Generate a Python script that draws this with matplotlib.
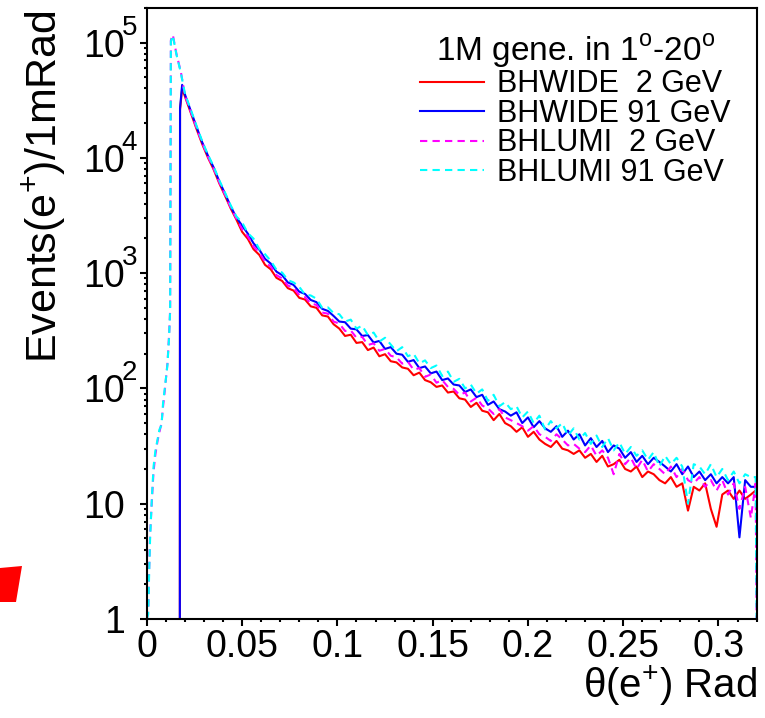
import numpy as np
import matplotlib
matplotlib.use('Agg')
import matplotlib.pyplot as plt
import matplotlib.ticker as ticker
from matplotlib.patches import Polygon
from matplotlib.transforms import blended_transform_factory, offset_copy

plt.rcParams['font.family'] = ['Liberation Sans', 'DejaVu Sans']
plt.rcParams['mathtext.fontset'] = 'custom'
plt.rcParams['mathtext.rm'] = 'Liberation Sans'

# theta bins (rad) - shared tail grid, 3 mrad steps from 0.020 to 0.317
theta_tail = list(np.round(np.arange(0.020, 0.3171, 0.003), 3))

# BHLUMI: rises from the beam pipe, peak just above 0.012 rad
theta_lumi_head = [0.0, 0.0007, 0.0012, 0.0017, 0.0026, 0.0035, 0.0045, 0.0056, 0.0066,
                   0.0077, 0.0085, 0.0094, 0.0108, 0.0117, 0.0122, 0.0126, 0.0136, 0.0155, 0.0178]
lumi2_head = [1.0, 1.2, 2.8, 5.5, 10.5, 19, 27, 35, 42, 50, 70, 96, 165, 300, 475,
              1.05e5, 1.17e5, 8.0e4, 5.6e4]
lumi91_head = [1.0, 1.1, 2.5, 5.0, 11, 21, 29, 36, 44, 48, 75, 100, 160, 290, 470,
               1.03e5, 1.15e5, 7.9e4, 5.5e4]

# BHWIDE: cut at 1 degree
theta_wide_head = [0.0173, 0.0174, 0.0185]
wide2_head = [1.0, 2.6e4, 4.0e4]
wide91_head = [1.0, 2.7e4, 4.3e4]

wide2_tail = [34000, 24700, 17900, 13200, 10100, 7950, 6010, 4700, 3640, 2910,
              2280, 1980, 1610, 1440, 1180, 1080, 910, 855, 740, 705,
              610, 590, 515, 500, 430, 420, 360, 330, 285, 292,
              248, 252, 215, 226, 190, 198, 172, 168, 152, 148,
              130, 137, 118, 113, 103, 106, 92, 94, 82, 80,
              69, 75, 64, 62, 53, 60, 50, 47, 42, 46,
              38, 42, 36, 33, 31, 35, 30, 29, 27, 29,
              25, 27, 23, 26, 21, 22, 24, 20, 19, 21,
              17, 19, 18, 16, 15, 17, 14, 15, 8.7, 14,
              13, 15, 9, 6.3, 12, 13, 11, 13, 11, 12]
wide91_tail = [35400, 25700, 18700, 13700, 10500, 8280, 6260, 4900, 3790, 3030,
               2580, 2200, 1810, 1600, 1330, 1210, 1030, 960, 830, 790,
               690, 660, 585, 560, 490, 470, 425, 380, 375, 330,
               325, 285, 290, 250, 258, 220, 228, 200, 196, 170,
               176, 150, 155, 135, 140, 118, 122, 108, 106, 93,
               98, 84, 88, 72, 77, 66, 63, 58, 62, 50,
               56, 46, 52, 45, 42, 47, 38, 43, 36, 40,
               32, 37, 31, 35, 28, 32, 30, 25, 28, 23,
               26, 22, 25, 23, 21, 19, 22, 18, 21, 17,
               19, 16, 18, 15, 17, 15, 17, 5.1, 16, 14]
lumi2_tail = [34600, 25200, 18300, 13500, 10300, 8100, 6140, 4800, 3710, 2970,
              2400, 2080, 1700, 1510, 1250, 1140, 960, 900, 780, 745,
              645, 620, 545, 530, 455, 445, 380, 365, 315, 318,
              275, 280, 238, 246, 212, 220, 192, 186, 164, 170,
              145, 150, 126, 132, 112, 118, 103, 99, 88, 92,
              77, 83, 71, 67, 60, 66, 56, 53, 50, 47,
              43, 47, 40, 38, 35, 40, 36, 32, 33, 30,
              28, 32, 26, 29, 25, 18, 27, 22, 25, 20,
              24, 19, 22, 20, 18, 21, 17, 20, 16, 15,
              17, 14, 16, 13, 16, 12, 15, 9, 14, 7.5]
lumi91_tail = [36000, 26300, 19100, 14000, 10700, 8450, 6400, 5000, 3870, 3100,
               2750, 2220, 1990, 1620, 1460, 1280, 1070, 1010, 870, 830,
               760, 650, 640, 600, 500, 505, 450, 440, 380, 395,
               330, 350, 290, 305, 255, 275, 240, 210, 228, 190,
               200, 165, 175, 150, 158, 128, 140, 114, 121, 100,
               108, 90, 98, 78, 88, 70, 76, 66, 70, 56,
               63, 50, 58, 44, 52, 45, 50, 39, 45, 36,
               41, 33, 39, 31, 37, 29, 34, 27, 31, 26,
               29, 24, 28, 21, 26, 22, 25, 21, 10, 22,
               21, 18, 22, 17, 20, 16, 19, 15, 18, 17]

# last bin, then BHLUMI drops at the edge of the range
theta_end_wide = [0.3195]
theta_end_lumi = [0.3195, 0.32]
wide2_end = [13]
wide91_end = [14]
lumi2_end = [15, 1.0]
lumi91_end = [17, 1.0]

labels = ['BHWIDE  2 GeV', 'BHWIDE 91 GeV', 'BHLUMI  2 GeV', 'BHLUMI 91 GeV']
colors = ['#ff0000', '#0000ff', '#ff00ff', '#00ffff']

for s in (wide2_tail, wide91_tail, lumi2_tail, lumi91_tail):
    assert len(s) == len(theta_tail), (len(s), len(theta_tail))

theta_wide = theta_wide_head + theta_tail + theta_end_wide
theta_lumi = theta_lumi_head + theta_tail + theta_end_lumi
series = [
    (theta_wide, wide2_head + wide2_tail + wide2_end, '-'),
    (theta_wide, wide91_head + wide91_tail + wide91_end, '-'),
    (theta_lumi, lumi2_head + lumi2_tail + lumi2_end, (0, (3.5, 2.5))),
    (theta_lumi, lumi91_head + lumi91_tail + lumi91_end, (0, (3.5, 2.5))),
]

fig = plt.figure(figsize=(7.65, 7.18), dpi=100)
ax = fig.add_axes([0.192, 0.138, 0.797, 0.851])

for (x, y, ls), c, lab in zip(series, colors, labels):
    ax.plot(x, y, color=c, lw=1.5, ls=ls, label=lab)

ax.set_yscale('log')
ax.set_xlim(0, 0.32)
ax.set_ylim(1, 2e5)

ax.xaxis.set_major_locator(ticker.MultipleLocator(0.05))
ax.xaxis.set_minor_locator(ticker.MultipleLocator(0.01))
ax.xaxis.set_major_formatter(ticker.FuncFormatter(lambda v, p: f'{v:g}'))
ax.set_yticks([1, 10, 100, 1e3, 1e4, 1e5])
ax.set_yticklabels(['1', '10', '10', '10', '10', '10'])
ax.yaxis.set_minor_locator(ticker.LogLocator(base=10, subs=np.arange(2, 10)))
ax.yaxis.set_minor_formatter(ticker.NullFormatter())

ax.tick_params(which='both', direction='out', top=False, right=False, width=1.5, labelsize=27)
ax.tick_params(which='major', length=5)
ax.tick_params(which='minor', length=2.5)
ax.tick_params(axis='y', pad=11)
ax.tick_params(axis='x', pad=2)
for sp in ax.spines.values():
    sp.set_linewidth(1.5)

# exponents of the y tick labels, ROOT style
tr = offset_copy(blended_transform_factory(ax.transAxes, ax.transData), fig=fig, x=0, y=15, units='dots')
for e in [2, 3, 4, 5]:
    ax.text(-0.029, 10**e, str(e), transform=tr, fontsize=20, ha='center', va='center')

ax.text(-0.168, 0.996, r'Events(e$^{+}$)/1mRad', transform=ax.transAxes, rotation=90,
        fontsize=31, ha='center', va='top')
ax.text(1.0, -0.11, 'θ(e$^{+}$) Rad', transform=ax.transAxes,
        fontsize=29, ha='right', va='center')

leg = ax.legend(loc='upper right', bbox_to_anchor=(0.987, 0.99), frameon=False, fontsize=22,
                title=r'1M gene. in 1$^{\rm o}$-20$^{\rm o}$', title_fontsize=24,
                handlelength=2.1, handletextpad=0.4, labelspacing=-0.02, borderaxespad=0.2)

# red mark cut off at the left edge
mark = [(0, 568), (22, 566), (16, 602), (0, 602)]
fig.patches.append(Polygon([(px / 765, 1 - py / 718) for px, py in mark], closed=True,
                           transform=fig.transFigure, color='#ff0000', lw=0))

fig.savefig('out.png', dpi=100)
